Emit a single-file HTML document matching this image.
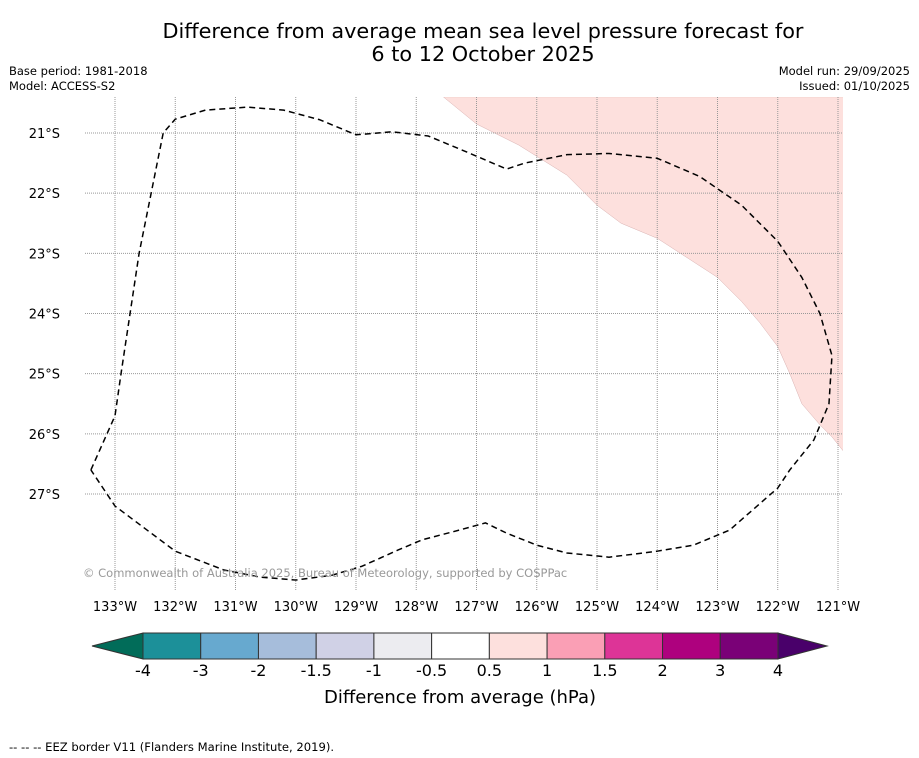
<!DOCTYPE html>
<html><head><meta charset="utf-8"><style>
body{margin:0;background:#fff;font-family:"DejaVu Sans","Liberation Sans",sans-serif;}
#c{position:relative;width:919px;height:758px;overflow:hidden;background:#fff}
</style></head><body>
<div id="c">
<svg width="919" height="758" style="position:absolute;left:0;top:0">
<defs><clipPath id="mc"><rect x="85" y="97" width="758" height="493"/></clipPath></defs>
<text x="483" y="38" font-size="20.8" text-anchor="middle">Difference from average mean sea level pressure forecast for</text>
<text x="483" y="61" font-size="20.8" text-anchor="middle">6 to 12 October 2025</text>
<text x="9" y="75" font-size="11.5">Base period: 1981-2018</text>
<text x="9" y="90" font-size="11.5">Model: ACCESS-S2</text>
<text x="910" y="75" font-size="11.5" text-anchor="end">Model run: 29/09/2025</text>
<text x="910" y="90" font-size="11.5" text-anchor="end">Issued: 01/10/2025</text>
<g id="map"></g>
<g id="cb"></g>
<text x="460" y="703" font-size="18" text-anchor="middle">Difference from average (hPa)</text>
<text x="9" y="751" font-size="11.6">--  --  -- EEZ border V11 (Flanders Marine Institute, 2019).</text>
</svg>
</div>
<script>
const lonTicks=[-133,-132,-131,-130,-129,-128,-127,-126,-125,-124,-123,-122,-121];
const latTicks=[-21,-22,-23,-24,-25,-26,-27];
const eezLon=[-133.4,-133.0,-132.9,-132.6,-132.2,-132.0,-131.5,-130.8,-130.2,-129.6,-129.0,-128.4,-127.8,-127.2,-126.5,-126.2,-125.5,-124.8,-124.0,-123.3,-122.6,-122.0,-121.6,-121.3,-121.1,-121.15,-121.4,-121.8,-122.0,-122.8,-123.4,-124.0,-124.8,-125.5,-126.0,-126.5,-126.85,-127.4,-127.9,-128.3,-128.9,-129.4,-130.0,-130.6,-131.2,-132.0,-133.0,-133.4];
const eezLat=[-26.6,-25.7,-25.0,-23.0,-21.0,-20.77,-20.62,-20.57,-20.62,-20.78,-21.03,-20.98,-21.05,-21.3,-21.6,-21.5,-21.36,-21.34,-21.42,-21.72,-22.2,-22.8,-23.4,-24.0,-24.7,-25.5,-26.1,-26.6,-26.9,-27.6,-27.85,-27.95,-28.05,-27.98,-27.85,-27.65,-27.48,-27.63,-27.76,-27.93,-28.2,-28.35,-28.43,-28.38,-28.26,-27.95,-27.2,-26.6];
const pinkLon=[-127.55,-127.0,-126.3,-125.5,-125.0,-124.6,-124.0,-123.0,-122.6,-122.3,-122.0,-121.8,-121.6,-121.3,-121.1,-120.9,-120.9];
const pinkLat=[-20.4,-20.85,-21.2,-21.7,-22.2,-22.5,-22.75,-23.4,-23.8,-24.15,-24.55,-25.0,-25.5,-25.85,-26.05,-26.3,-20.4];
const cbBounds=["-4","-3","-2","-1.5","-1","-0.5","0.5","1","1.5","2","3","4"];
const cbColors=["#1c9099","#67a9cf","#a6bddb","#d0d1e6","#ececf0","#ffffff","#fde0dd","#fa9fb5","#dd3497","#ae017e","#7a0177"];
const NS="http://www.w3.org/2000/svg";
const X=lon=>115+(lon+133)*60.25, Y=lat=>133+(-21-lat)*60.17;
function mk(p,t,a){const e=document.createElementNS(NS,t);for(const k in a)e.setAttribute(k,a[k]);p.appendChild(e);return e;}
const map=document.getElementById('map');
const pp=pinkLon.map((v,i)=>X(v)+','+Y(pinkLat[i]));
const pk=mk(map,'polygon',{points:pp.join(' '),fill:'#fde0dd',stroke:'#d8b0b0','stroke-width':0.5,'clip-path':'url(#mc)'});


lonTicks.forEach(l=>{
 const ln=mk(map,'line',{x1:X(l),x2:X(l),y1:97,y2:590,stroke:'#999','stroke-dasharray':'1,1','stroke-width':1});
 
 
 const t=mk(map,'text',{x:X(l),y:611,'font-size':13,'text-anchor':'middle'});t.textContent=(-l)+'°W';
 
 
});
latTicks.forEach(l=>{
 const ln=mk(map,'line',{x1:85,x2:843,y1:Y(l),y2:Y(l),stroke:'#999','stroke-dasharray':'1,1','stroke-width':1});
 
 
 const t=mk(map,'text',{x:60,y:Y(l)+5,'font-size':13,'text-anchor':'end'});t.textContent=(-l)+'°S';
 
 
});
const eez=mk(map,'polyline',{points:eezLon.map((v,i)=>X(v)+','+Y(eezLat[i])).join(' '),fill:'none',stroke:'#000','stroke-width':1.5,'stroke-dasharray':'6,4','stroke-linejoin':'round'});


const cr=mk(map,'text',{x:83,y:577,'font-size':11.5,fill:'#999'});cr.textContent='© Commonwealth of Australia 2025, Bureau of Meteorology, supported by COSPPac';


const cb=document.getElementById('cb');
const x0=143,x1=778,y0=633,h=26,w=(x1-x0)/cbColors.length;
const lt=mk(cb,'polygon',{points:`${x0},${y0} ${x0},${y0+h} 92,${y0+h/2}`,fill:'#016c59',stroke:'#333'});


const rt=mk(cb,'polygon',{points:`${x1},${y0} ${x1},${y0+h} 827,${y0+h/2}`,fill:'#49006a',stroke:'#333'});


cbColors.forEach((c,i)=>{
 const r=mk(cb,'rect',{x:x0+i*w,y:y0,width:w,height:h,fill:c,stroke:'#333','stroke-width':1});
 
 
});
cbBounds.forEach((b,i)=>{
 const t=mk(cb,'text',{x:x0+i*w,y:676,'font-size':16,'text-anchor':'middle'});t.textContent=b;
 
 
});
</script>
</body></html>
